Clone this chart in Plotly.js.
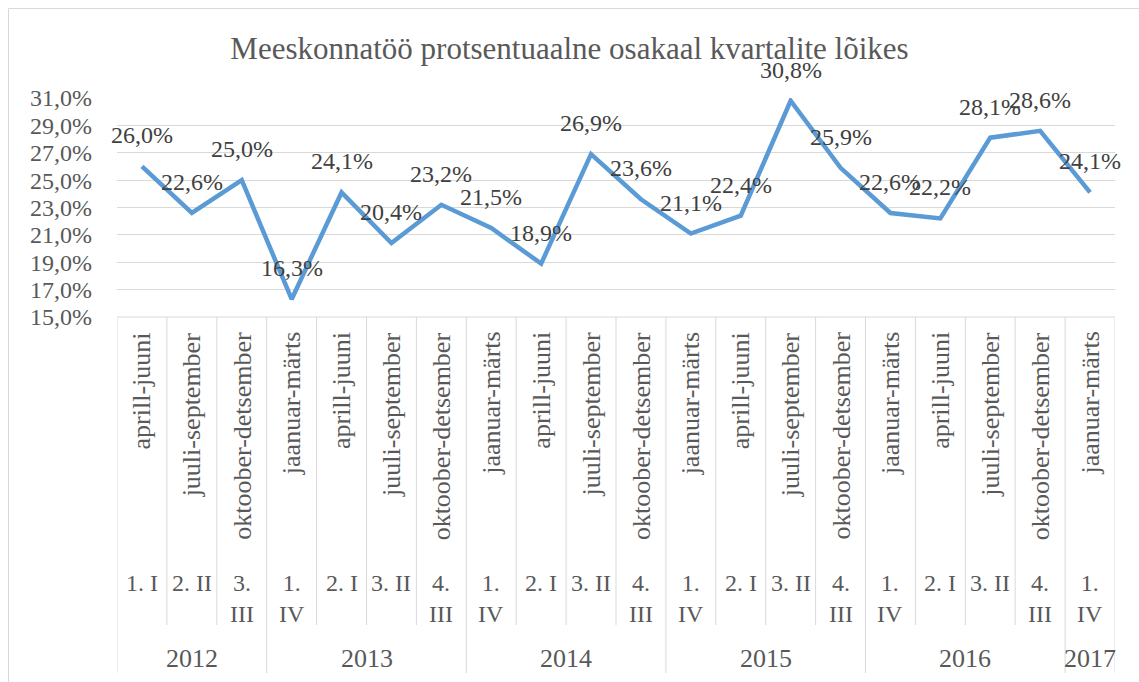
<!DOCTYPE html>
<html>
<head>
<meta charset="utf-8">
<script src="https://cdn.plot.ly/plotly-3.0.1.min.js"></script>
<style>
  html, body { margin: 0; padding: 0; background: #ffffff; }
  #chart { width: 1139px; height: 682px; }
</style>
</head>
<body>
<div id="chart"></div>
<script>
// ---- data ----
const years = ["2012","2012","2012",
               "2013","2013","2013","2013",
               "2014","2014","2014","2014",
               "2015","2015","2015","2015",
               "2016","2016","2016","2016",
               "2017"];
const codes = ["1. I","2. II","3.<br>III",
               "1.<br>IV","2. I","3. II","4.<br>III",
               "1.<br>IV","2. I","3. II","4.<br>III",
               "1.<br>IV","2. I","3. II","4.<br>III",
               "1.<br>IV","2. I","3. II","4.<br>III",
               "1.<br>IV"];
const months = ["aprill-juuni","juuli-september","oktoober-detsember",
                "jaanuar-märts","aprill-juuni","juuli-september","oktoober-detsember",
                "jaanuar-märts","aprill-juuni","juuli-september","oktoober-detsember",
                "jaanuar-märts","aprill-juuni","juuli-september","oktoober-detsember",
                "jaanuar-märts","aprill-juuni","juuli-september","oktoober-detsember",
                "jaanuar-märts"];
const values = [26.0, 22.6, 25.0,
                16.3, 24.1, 20.4, 23.2,
                21.5, 18.9, 26.9, 23.6,
                21.1, 22.4, 30.8, 25.9,
                22.6, 22.2, 28.1, 28.6,
                24.1];
const yTicks = [15, 17, 19, 21, 23, 25, 27, 29, 31];

// ---- style ----
const FONT = "'Liberation Serif', 'DejaVu Serif', serif";
const TXT = "#595959";
const GRID = "#D9D9D9";
const LINE = "#5B9BD5";

const idx = values.map((_, i) => i);
const fmt = v => v.toFixed(1).replace(".", ",") + "%";

// plot area in pixels (for paper-coordinate conversion)
const PT = 98, PB = 682 - 365, PH = PB - PT;
const py = px => (PB - px) / PH;          // pixel row -> paper y
const PL = 117, PW = 998;
const pxp = px => (px - PL) / PW;         // pixel col -> paper x

const annotations = [];
// data labels
idx.forEach(i => {
  annotations.push({
    x: i, y: values[i], xref: "x", yref: "y",
    text: fmt(values[i]), showarrow: false,
    yanchor: "middle", xanchor: "center", yshift: 31,
    font: { family: FONT, size: 24, color: "#404040" }
  });
});
// month labels (rotated)
idx.forEach(i => {
  annotations.push({
    x: i, y: py(330), xref: "x", yref: "paper",
    text: months[i], showarrow: false, textangle: -90,
    xanchor: "center", yanchor: "top",
    font: { family: FONT, size: 26, color: TXT }
  });
});
// code labels
idx.forEach(i => {
  annotations.push({
    x: i, y: py(568), xref: "x", yref: "paper",
    text: codes[i], showarrow: false, align: "center",
    xanchor: "center", yanchor: "top",
    font: { family: FONT, size: 24, color: TXT }
  });
});
// year groups
const groups = [];
years.forEach((y, i) => {
  if (!groups.length || groups[groups.length - 1].year !== y) groups.push({ year: y, start: i, end: i });
  else groups[groups.length - 1].end = i;
});
groups.forEach(g => {
  annotations.push({
    x: (g.start + g.end) / 2, y: py(658), xref: "x", yref: "paper",
    text: g.year, showarrow: false,
    xanchor: "center", yanchor: "middle",
    font: { family: FONT, size: 26, color: TXT }
  });
});

const shapes = [];
// table top line
shapes.push({ type: "line", xref: "paper", yref: "paper", x0: 0, x1: 1, y0: 0, y1: 0,
  line: { color: GRID, width: 1 } });
// vertical separators
const groupStarts = new Set(groups.map(g => g.start));
for (let i = 0; i <= values.length; i++) {
  const isGroup = groupStarts.has(i) || i === values.length;
  shapes.push({ type: "line", xref: "x", yref: "paper", x0: i - 0.5, x1: i - 0.5,
    y0: 0, y1: isGroup ? py(673) : py(625), line: { color: GRID, width: 1 } });
}
// chart border
shapes.push({ type: "rect", xref: "paper", yref: "paper",
  x0: pxp(8.5), x1: pxp(1160), y0: py(700), y1: py(8.5),
  line: { color: GRID, width: 1 }, fillcolor: "rgba(0,0,0,0)" });

const trace = {
  x: idx, y: values, type: "scatter", mode: "lines",
  line: { color: LINE, width: 4.5 },
  hoverinfo: "skip"
};

const layout = {
  width: 1139, height: 682,
  margin: { l: PL, r: 1139 - PL - PW, t: PT, b: 682 - PB },
  paper_bgcolor: "#ffffff", plot_bgcolor: "#ffffff",
  showlegend: false,
  separators: ",.",
  font: { family: FONT, color: TXT },
  title: {
    text: "Meeskonnatöö protsentuaalne osakaal kvartalite lõikes",
    font: { family: FONT, size: 31, color: TXT },
    x: 0.5, xref: "container", xanchor: "center",
    y: 1 - 48 / 682, yref: "container", yanchor: "middle"
  },
  xaxis: {
    range: [-0.5, values.length - 0.5],
    showticklabels: false, showgrid: false, zeroline: false, showline: false, ticks: ""
  },
  yaxis: {
    range: [15, 31],
    tickvals: yTicks,
    ticktext: yTicks.map(fmt),
    showgrid: true, gridcolor: GRID, gridwidth: 1,
    zeroline: false, showline: false, ticks: "",
    ticklabelstandoff: 24,
    tickfont: { family: FONT, size: 24, color: TXT }
  },
  annotations: annotations,
  shapes: shapes
};

Plotly.newPlot("chart", [trace], layout, { displayModeBar: false, staticPlot: true });
</script>
</body>
</html>
